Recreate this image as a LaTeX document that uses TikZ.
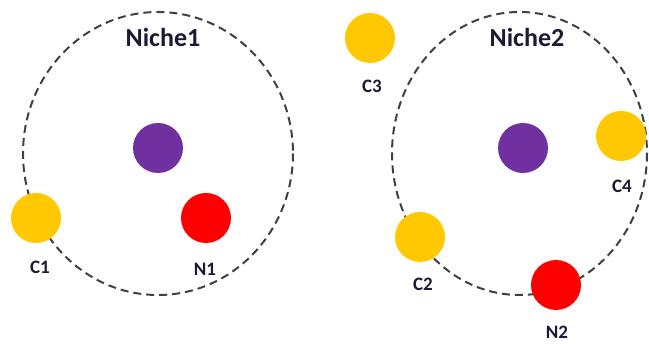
\documentclass[tikz,border=0pt]{standalone}
\usepackage{fontspec}
\setmainfont{Carlito}
\definecolor{dotyellow}{HTML}{FFC800}
\definecolor{dotpurple}{HTML}{7030A0}
\definecolor{dotred}{HTML}{FF0000}
\definecolor{rimgray}{HTML}{404040}
\definecolor{labcol}{HTML}{1A1A33}
\tikzset{
  dot/.style={circle,inner sep=0pt,minimum size=50pt,draw=none},
  ydot/.style={dot,fill=dotyellow},
  pdot/.style={dot,fill=dotpurple},
  rdot/.style={dot,fill=dotred},
  rim/.style={draw=rimgray,line width=2pt,dash pattern=on 8pt off 5pt},
  lab/.style={anchor=base,inner sep=0pt,text=labcol,font=\fontsize{19}{22}\selectfont\bfseries},
  nlab/.style={anchor=base,inner sep=0pt,text=labcol,font=\fontsize{26}{30}\selectfont\bfseries}
}
\begin{document}
\begin{tikzpicture}[x=1pt,y=-1pt]
\useasboundingbox (0,0) rectangle (649,344);
% niches
\draw[rim] (158,153.5) ellipse [x radius=135,y radius=141.5];
\draw[rim] (519.5,153.5) ellipse [x radius=127.5,y radius=141.5];
\node[nlab] (niche1) at (163,47) {Niche1};
\node[nlab] (niche2) at (527,47) {Niche2};
% niche 1
\node[pdot] (p1) at (158,148) {};
\node[ydot] (c1) at (36,218) {};
\node[rdot] (n1) at (206,218) {};
\node[lab] (c1l) at (40,274) {C1};
\node[lab] (n1l) at (205,276) {N1};
% niche 2
\node[pdot] (p2) at (523,148) {};
\node[ydot] (c3) at (370,38) {};
\node[ydot] (c4) at (621,136) {};
\node[ydot] (c2) at (420,237) {};
\node[rdot] (n2) at (556,285) {};
\node[lab] (c3l) at (372,93) {C3};
\node[lab] (c4l) at (622,193) {C4};
\node[lab] (c2l) at (423,291) {C2};
\node[lab] (n2l) at (557,339) {N2};
\end{tikzpicture}
\end{document}
